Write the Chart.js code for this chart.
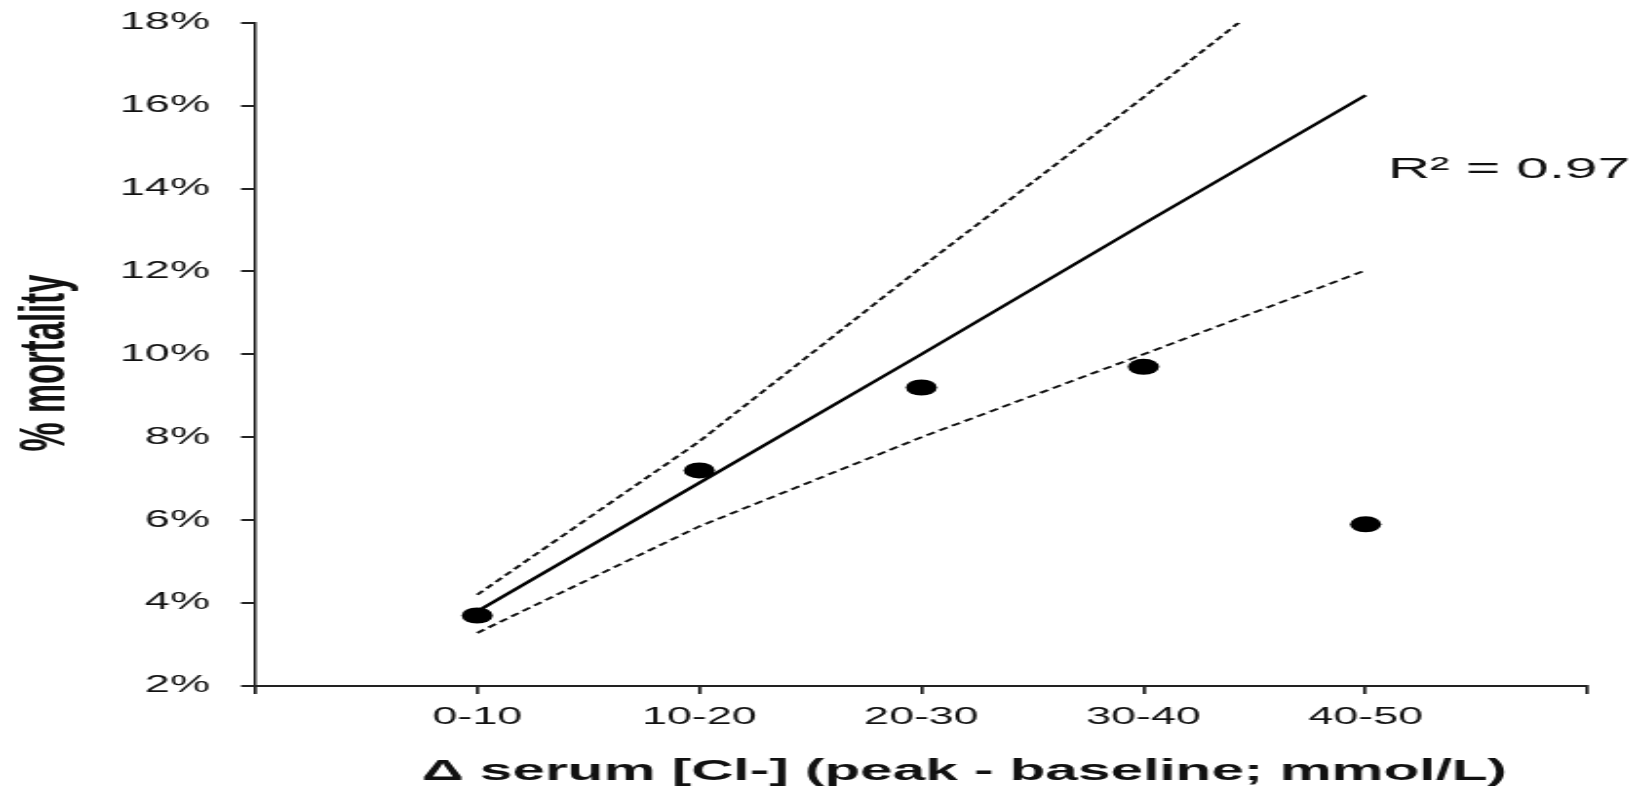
<!DOCTYPE html>
<html>
<head>
<meta charset="utf-8">
<script src="https://cdn.jsdelivr.net/npm/chart.js@4.4.0/dist/chart.umd.min.js"></script>
<style>
  html, body { margin: 0; padding: 0; background: #fff; overflow: hidden; }
  /* the source figure is stretched sideways, so draw narrow and stretch */
  #wrap { width: 838px; height: 788px; transform: scaleX(1.95); transform-origin: 0 0; }
</style>
</head>
<body>
<div id="wrap"><canvas id="chart"></canvas></div>
<script>
// data
const categories = ['0-10', '10-20', '20-30', '30-40', '40-50'];
const mortality = [3.7, 7.2, 9.2, 9.7, 5.9];
const fitLine = [3.8, 6.9, 10.0, 13.15, 16.25];
const upperBand = [4.2, 7.9, 12.1, 16.2, 20.4];
const lowerBand = [3.28, 5.85, 8.0, 10.0, 12.03];
const yMin = 2, yMax = 18, yStep = 2;
const rSquaredLabel = 'R\u00b2 = 0.97';
const xTitle = '\u0394 serum [Cl-] (peak - baseline; mmol/L)';
const yTitle = '% mortality';

const FONT = '"Liberation Sans", Arial, sans-serif';
const toXY = arr => arr.map((v, i) => ({ x: i + 1, y: v }));

const annotations = {
    id: 'annotations',
    afterDraw(chart) {
        const { ctx, chartArea, scales: { x, y } } = chart;
        ctx.save();
        ctx.fillStyle = '#111';
        ctx.font = '30px ' + FONT;
        ctx.textAlign = 'left';
        ctx.textBaseline = 'alphabetic';
        ctx.fillText(rSquaredLabel, x.getPixelForValue(5.1), y.getPixelForValue(14.25));

        ctx.font = 'bold 30px ' + FONT;
        ctx.textAlign = 'center';
        ctx.fillText(xTitle, (chartArea.left + chartArea.right) / 2 + 22, 780);

        // y title, sits a little below the middle of the axis
        ctx.translate(24, 363);
        ctx.rotate(-Math.PI / 2);
        ctx.font = 'bold 32.8px ' + FONT;
        ctx.textBaseline = 'middle';
        ctx.fillText(yTitle, 0, 0);
        ctx.restore();
    }
};

const ctx = document.getElementById('chart').getContext('2d');
new Chart(ctx, {
    type: 'scatter',
    data: {
        datasets: [
            { label: 'mortality', data: toXY(mortality), showLine: false, pointRadius: 8, pointHoverRadius: 8,
              pointBackgroundColor: '#000', pointBorderWidth: 0, order: 0 },
            { label: 'fit', data: toXY(fitLine), showLine: true, borderColor: '#000', borderWidth: 2.3,
              pointRadius: 0, order: 1 },
            { label: 'upper', data: toXY(upperBand), showLine: true, borderColor: '#111', borderWidth: 1.9,
              borderDash: [5, 3], pointRadius: 0, order: 2 },
            { label: 'lower', data: toXY(lowerBand), showLine: true, borderColor: '#111', borderWidth: 1.9,
              borderDash: [5, 3], pointRadius: 0, order: 3 }
        ]
    },
    options: {
        animation: false,
        responsive: true,
        maintainAspectRatio: false,
        layout: { padding: { top: 22.7, right: 23.8, bottom: 0, left: 0 } },
        plugins: { legend: { display: false }, tooltip: { enabled: false } },
        scales: {
            x: {
                type: 'linear', min: 0, max: categories.length + 1,
                afterFit: s => { s.height = 102; s.paddingLeft = 0; s.paddingRight = 0; },
                ticks: { stepSize: 1, padding: 10, color: '#111', autoSkip: false, maxRotation: 0,
                         font: { family: FONT, size: 23 },
                         callback: v => categories[v - 1] || '' },
                grid: { drawOnChartArea: false, tickLength: 8, color: '#222', lineWidth: 1.7 },
                border: { color: '#222', width: 2 }
            },
            y: {
                min: yMin, max: yMax,
                afterFit: s => { s.width = 130.8; s.paddingTop = 0; s.paddingBottom = 0; },
                ticks: { stepSize: yStep, padding: 16, color: '#111',
                         font: { family: FONT, size: 23 },
                         callback: v => v + '%' },
                grid: { drawOnChartArea: false, tickLength: 7.2, color: '#222', lineWidth: 2 },
                border: { color: '#222', width: 1.5 }
            }
        }
    },
    plugins: [annotations]
});
</script>
</body>
</html>
